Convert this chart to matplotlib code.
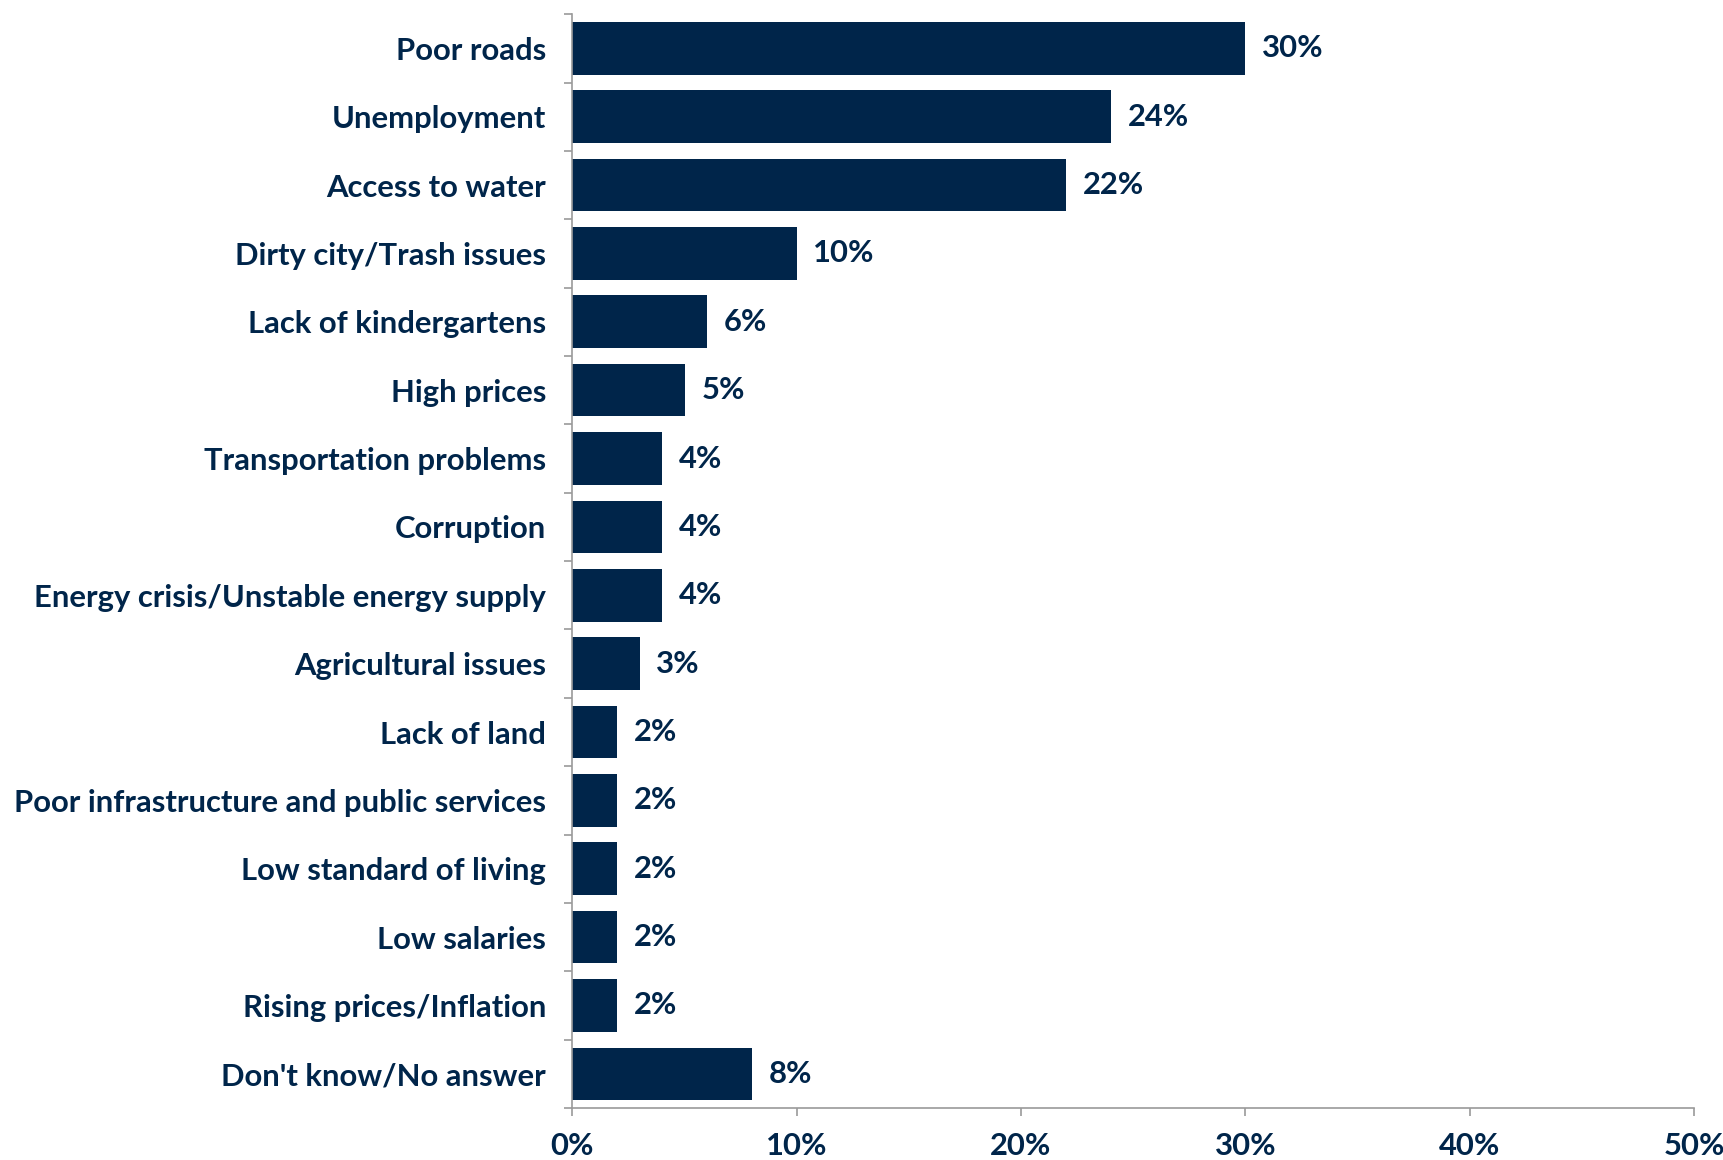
import matplotlib
matplotlib.use('Agg')
import matplotlib.pyplot as plt
import numpy as np

categories = ['Poor roads', 'Unemployment', 'Access to water', 'Dirty city/Trash issues',
              'Lack of kindergartens', 'High prices', 'Transportation problems', 'Corruption',
              'Energy crisis/Unstable energy supply', 'Agricultural issues', 'Lack of land',
              'Poor infrastructure and public services', 'Low standard of living', 'Low salaries',
              'Rising prices/Inflation', "Don't know/No answer"]
values = [30, 24, 22, 10, 6, 5, 4, 4, 4, 3, 2, 2, 2, 2, 2, 8]
x_ticks = [0, 10, 20, 30, 40, 50]

navy = '#00254A'
grey = '#9A9A9A'
plt.rcParams['font.family'] = ['Lato', 'DejaVu Sans']
fs = 22.3

fig = plt.figure(figsize=(17.24, 11.6), dpi=100)
ax = fig.add_axes([0.332, 0.0448, 0.6506, 0.943])

y = np.arange(len(categories))
ax.barh(y, values, height=0.77, color=navy)
ax.set_ylim(len(categories) - 0.5, -0.5)
ax.set_xlim(0, 50)

for yi, v in zip(y, values):
    ax.annotate(f'{v}%', (v, yi), xytext=(12, 0), textcoords='offset points',
                va='center', ha='left', fontsize=fs, fontweight='bold', color=navy)

ax.set_yticks(y)
ax.set_yticklabels(categories, fontsize=fs, fontweight='bold', color=navy)
ax.set_yticks(np.arange(len(categories) + 1) - 0.5, minor=True)
ax.tick_params(axis='y', which='major', length=0, pad=19)
ax.tick_params(axis='y', which='minor', length=6, color=grey, width=1.2)

ax.set_xticks(x_ticks)
ax.set_xticklabels([f'{t}%' for t in x_ticks], fontsize=fs, fontweight='bold', color=navy)
ax.tick_params(axis='x', length=6, color=grey, width=1.2, pad=11)

for s in ['top', 'right']:
    ax.spines[s].set_visible(False)
for s in ['left', 'bottom']:
    ax.spines[s].set_color(grey)
    ax.spines[s].set_linewidth(1.2)

fig.savefig('out.png', dpi=100)
